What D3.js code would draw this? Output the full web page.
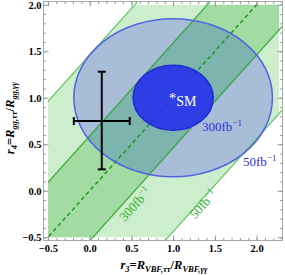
<!DOCTYPE html>
<html>
<head>
<meta charset="utf-8">
<script src="https://cdn.jsdelivr.net/npm/d3@7"></script>
<style>
  body { margin: 0; background: #fff; }
  svg { display: block; }
  .tick text { font-family: 'Liberation Serif', serif; font-weight: bold; font-size: 10.5px; fill: #000; }
  .tick line { stroke: #999; }
</style>
</head>
<body>
<script>
var width = 285, height = 275;

// ticks
var xTicks = [-0.5, 0, 0.5, 1, 1.5, 2];
var yTicks = [-0.5, 0, 0.5, 1, 1.5, 2];

// region covered by the green bands
var regionX = [-0.5, 2.27];
var regionY = [-0.5, 2.0];

// bands around r4 = r3 (offsets of the edges)
var bandLumi  = ['50', '300'];
var bandUpper = [1.46, 0.59];
var bandLower = [-1.44, -0.54];

// ellipses centred on the SM point
var smPoint = [1, 1];
var ellLumi = ['50', '300'];
var ellRx = [1.19, 0.48];
var ellRy = [0.85, 0.35];

// measured point with error bars
var measPoint = [0.145, 0.75];
var measXRange = [-0.19, 0.48];
var measYRange = [0.23, 1.28];

var x = d3.scaleLinear().domain([-0.553, 2.31]).range([43.5, 282.5]);
var y = d3.scaleLinear().domain([-0.535, 2.035]).range([240.5, 1.5]);

var svg = d3.select('body').append('svg')
            .attr('width', width)
            .attr('height', height);

var defs = svg.append('defs');
defs.append('clipPath').attr('id', 'regionClip')
    .append('rect')
      .attr('x', x(regionX[0])).attr('y', y(regionY[1]))
      .attr('width', x(regionX[1]) - x(regionX[0]))
      .attr('height', y(regionY[0]) - y(regionY[1]));
defs.append('clipPath').attr('id', 'lineClip')
    .append('rect')
      .attr('x', x(regionX[0])).attr('y', y.range()[1])
      .attr('width', x.range()[1] - x(regionX[0]))
      .attr('height', y.range()[0] - y.range()[1]);

function bandPoints(lo, hi) {
  var a = regionX[0] - 1, b = regionX[1] + 1;
  return [[a, a + lo], [b, b + lo], [b, b + hi], [a, a + hi]]
    .map(p => [x(p[0]), y(p[1])].join(',')).join(' ');
}

defs.append('clipPath').attr('id', 'band300')
    .append('polygon').attr('points', bandPoints(bandLower[1], bandUpper[1]));

var bandFill = ['#cdeecd', '#a2dca2'];
var bands = svg.append('g').attr('clip-path', 'url(#regionClip)');
bandLumi.forEach(function(l, i) {
  bands.append('polygon')
       .attr('points', bandPoints(bandLower[i], bandUpper[i]))
       .attr('fill', bandFill[i]);
});

// big ellipse (50 fb-1)
function ellipse(g, i) {
  return g.append('ellipse')
          .attr('cx', x(smPoint[0])).attr('cy', y(smPoint[1]))
          .attr('rx', x(smPoint[0] + ellRx[i]) - x(smPoint[0]))
          .attr('ry', y(smPoint[1]) - y(smPoint[1] + ellRy[i]));
}
ellipse(svg, 0).attr('fill', '#a8bdd8');
ellipse(svg.append('g').attr('clip-path', 'url(#regionClip)')
           .append('g').attr('clip-path', 'url(#band300)'), 0)
  .attr('fill', '#7db5ae');

// band edges
var lines = svg.append('g').attr('clip-path', 'url(#lineClip)');
var lineColor = ['#4cbf4c', '#259f25'];
function edge(c) {
  var a = regionX[0] - 1, b = regionX[1] + 1;
  return [[a, a + c], [b, b + c]];
}
var lineGen = d3.line().x(d => x(d[0])).y(d => y(d[1]));
bandLumi.forEach(function(l, i) {
  [bandLower[i], bandUpper[i]].forEach(function(c) {
    lines.append('path')
         .attr('d', lineGen(edge(c)))
         .attr('stroke', lineColor[i])
         .attr('stroke-opacity', 0.8)
         .attr('stroke-width', 1.3)
         .attr('fill', 'none');
  });
});
lines.append('path')
     .attr('d', lineGen(edge(0)))
     .attr('stroke', '#1a9a1a')
     .attr('stroke-width', 1.5)
     .attr('stroke-dasharray', '4,3')
     .attr('fill', 'none');

ellipse(svg, 0).attr('fill', 'none').attr('stroke', '#5063e2').attr('stroke-width', 1.5);
ellipse(svg, 1).attr('fill', '#2733e8').attr('fill-opacity', 0.92)
               .attr('stroke', '#1c2ad6').attr('stroke-width', 1.5);

// error bars
var err = svg.append('g').attr('stroke', '#000').attr('stroke-width', 2);
err.append('line')
   .attr('x1', x(measPoint[0])).attr('x2', x(measPoint[0]))
   .attr('y1', y(measYRange[0])).attr('y2', y(measYRange[1]));
err.append('line')
   .attr('y1', y(measPoint[1])).attr('y2', y(measPoint[1]))
   .attr('x1', x(measXRange[0])).attr('x2', x(measXRange[1]));
measYRange.forEach(function(v) {
  err.append('line')
     .attr('x1', x(measPoint[0]) - 4).attr('x2', x(measPoint[0]) + 4)
     .attr('y1', y(v)).attr('y2', y(v));
});
measXRange.forEach(function(v) {
  err.append('line')
     .attr('x1', x(v)).attr('x2', x(v))
     .attr('y1', y(measPoint[1]) - 4).attr('y2', y(measPoint[1]) + 4);
});

// labels
function lumiLabel(g, txt, size) {
  g.append('tspan').text(txt + 'fb');
  g.append('tspan').attr('dy', -size * 0.4).attr('font-size', size * 0.7).text('\u22121');
}
var sm = svg.append('text')
            .attr('x', x(smPoint[0]) - 4.5).attr('y', y(smPoint[1]) + 8)
            .attr('font-family', 'Liberation Serif, serif').attr('font-size', 14)
            .attr('fill', '#fff');
sm.append('tspan').attr('font-size', 15).attr('dy', -3).text('*');
sm.append('tspan').attr('dy', 3).text('SM');

var blueLabelPos = [[243, 166], [202, 131]];
ellLumi.forEach(function(l, i) {
  var t = svg.append('text')
             .attr('x', blueLabelPos[i][0]).attr('y', blueLabelPos[i][1])
             .attr('font-family', 'Liberation Serif, serif').attr('font-size', 13)
             .attr('fill', '#2a2fd8');
  lumiLabel(t, l, 13);
});

var angle = -Math.atan((y(0) - y(1)) / (x(1) - x(0))) * 180 / Math.PI;
var greenLabelPos = [[203, 204], [135, 204]];
bandLumi.forEach(function(l, i) {
  var t = svg.append('text')
             .attr('transform', `translate(${greenLabelPos[i][0]},${greenLabelPos[i][1]}) rotate(${angle})`)
             .attr('text-anchor', 'middle').attr('dy', '0.35em')
             .attr('font-family', 'Liberation Serif, serif').attr('font-size', 13)
             .attr('fill', '#2aae2a');
  lumiLabel(t, l, 13);
});

// frame and ticks
svg.append('rect')
   .attr('x', x.range()[0]).attr('y', y.range()[1])
   .attr('width', x.range()[1] - x.range()[0])
   .attr('height', y.range()[0] - y.range()[1])
   .attr('fill', 'none').attr('stroke', '#aaa').attr('stroke-width', 1);

var minorX = d3.range(-0.5, 2.31, 0.1).map(v => +v.toFixed(1));
var minorY = d3.range(-0.5, 2.01, 0.1).map(v => +v.toFixed(1));
var fmt = d3.format('.1f');

function drawAxis(axis, tx, ty) {
  svg.append('g').attr('transform', `translate(${tx},${ty})`)
     .call(axis).call(g => g.select('.domain').remove());
}
drawAxis(d3.axisBottom(x).tickValues(minorX).tickSize(-2.5).tickFormat(''), 0, y.range()[0]);
drawAxis(d3.axisTop(x).tickValues(minorX).tickSize(-2.5).tickFormat(''), 0, y.range()[1]);
drawAxis(d3.axisLeft(y).tickValues(minorY).tickSize(-2.5).tickFormat(''), x.range()[0], 0);
drawAxis(d3.axisRight(y).tickValues(minorY).tickSize(-2.5).tickFormat(''), x.range()[1], 0);
drawAxis(d3.axisBottom(x).tickValues(xTicks).tickSize(-5).tickPadding(4).tickFormat(fmt), 0, y.range()[0]);
drawAxis(d3.axisTop(x).tickValues(xTicks).tickSize(-5).tickFormat(''), 0, y.range()[1]);
drawAxis(d3.axisLeft(y).tickValues(yTicks).tickSize(-5).tickPadding(2).tickFormat(fmt), x.range()[0], 0);
drawAxis(d3.axisRight(y).tickValues(yTicks).tickSize(-5).tickFormat(''), x.range()[1], 0);

// axis titles
function title(t, idx, sub1, sub2) {
  t.attr('font-family', 'Liberation Serif, serif').attr('font-weight', 'bold')
   .attr('font-style', 'italic').attr('font-size', 12.5).attr('fill', '#000');
  t.append('tspan').text('r');
  t.append('tspan').attr('dy', 3).attr('font-size', 8.5).text(idx);
  t.append('tspan').attr('dy', -3).attr('font-style', 'normal').text('=');
  t.append('tspan').text('R');
  t.append('tspan').attr('dy', 3).attr('font-size', 8.5).text(sub1);
  t.append('tspan').attr('dy', -3).attr('font-style', 'normal').text('/');
  t.append('tspan').text('R');
  t.append('tspan').attr('dy', 3).attr('font-size', 8.5).text(sub2);
}
title(svg.append('text').attr('x', 164).attr('y', 269).attr('text-anchor', 'middle'),
      '3', 'VBF,\u03c4\u03c4', 'VBF,\u03b3\u03b3');
title(svg.append('text').attr('transform', 'translate(14,118) rotate(-90)').attr('text-anchor', 'middle'),
      '4', 'gg,\u03c4\u03c4', 'gg,\u03b3\u03b3');
</script>
</body>
</html>
